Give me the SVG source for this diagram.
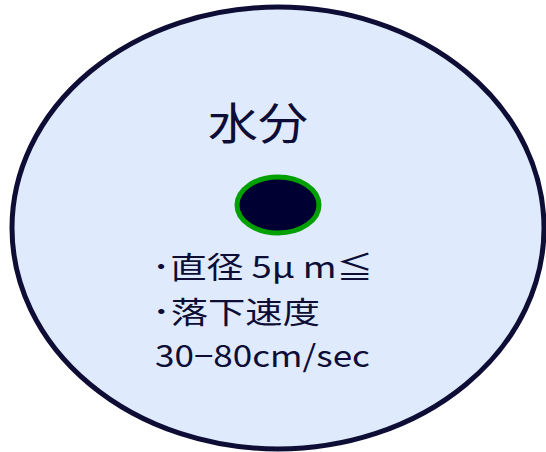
<svg xmlns="http://www.w3.org/2000/svg" width="546" height="452" viewBox="0 0 546 452">
<style>
.t{font-family:"Noto Sans CJK JP","Noto Sans",sans-serif;fill:#0d0d35}
</style>
<rect width="546" height="452" fill="#ffffff"/>
<g id="outer">
<ellipse cx="278" cy="228" rx="266" ry="221" fill="#dfebfc" stroke="#0d0d35" stroke-width="5"/>
</g>
<g id="title">
<text class="t" x="208" y="140" font-size="44" textLength="100" lengthAdjust="spacingAndGlyphs">水分</text>
</g>
<g id="drop">
<ellipse cx="278" cy="205" rx="41" ry="28" fill="#000033" stroke="#00a000" stroke-width="5"/>
</g>
<g id="info">
<text class="t" x="152" y="278" font-size="30" textLength="221" lengthAdjust="spacingAndGlyphs">･直径 5μ m≦</text>
<text class="t" x="152" y="323" font-size="30" textLength="168" lengthAdjust="spacingAndGlyphs">･落下速度</text>
<text class="t" x="155" y="367" font-size="30" textLength="215" lengthAdjust="spacingAndGlyphs">30−80cm/sec</text>
</g>
</svg>
